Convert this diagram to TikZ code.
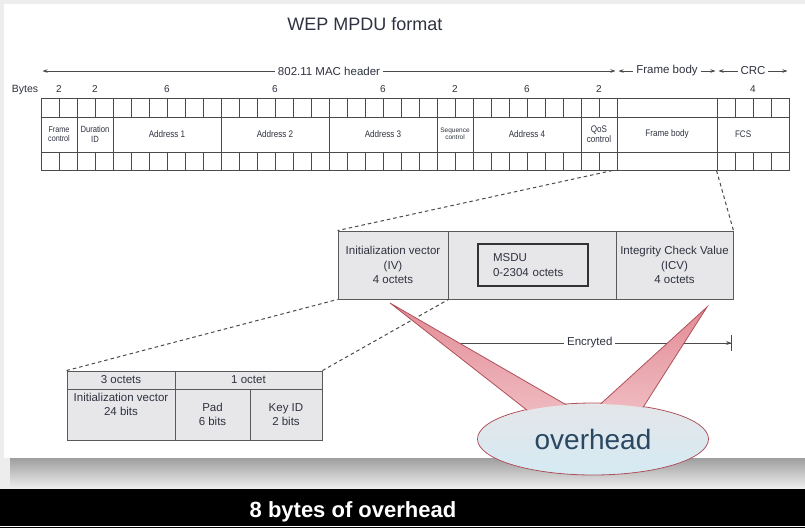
\documentclass[tikz,border=0pt]{standalone}
\usepackage{fontspec}
\setmainfont{Liberation Sans}
\newfontfamily\narrowsf[FakeStretch=0.85]{Liberation Sans}
\usetikzlibrary{arrows.meta,shapes.geometric}

\definecolor{ink}{HTML}{2F3240}
\definecolor{frameline}{HTML}{4A4A4A}
\definecolor{boxfill}{HTML}{E7E7E9}
\definecolor{calloutrim}{HTML}{B0505A}
\definecolor{wedgetop}{HTML}{E38C96}
\definecolor{wedgebot}{HTML}{F0BFC4}
\definecolor{bubbletop}{HTML}{E4E6E9}
\definecolor{bubblebot}{HTML}{D5EAF3}
\definecolor{bubbletext}{HTML}{2B4862}

\begin{document}
\begin{tikzpicture}[
    x=1pt, y=-1pt,
    field/.style={draw=frameline, line width=1pt, rectangle, minimum height=72pt, inner sep=0pt, align=center, text=ink, font=\narrowsf\fontsize{9.5}{10.5}\selectfont},
    cell/.style={draw=frameline, line width=0.6pt},
    bytenum/.style={anchor=base, text=ink, font=\fontsize{10}{10}\selectfont},
    dimline/.style={{Stealth[length=5pt,width=3.5pt]}-{Stealth[length=5pt,width=3.5pt]}, draw=frameline, line width=0.8pt, shorten <=1.5pt, shorten >=1.5pt},
    dimlabel/.style={fill=white, inner xsep=3pt, inner ysep=1pt, text=ink, font=\fontsize{11.5}{12}\selectfont},
    wepbox/.style={draw=gray!70!black, fill=boxfill, line width=0.9pt, rectangle, inner sep=0pt, align=center, text=ink, font=\fontsize{11.5}{14.5}\selectfont},
    zoomline/.style={draw=frameline, dash pattern=on 3.5pt off 3pt, line width=1pt},
    wedge/.style={draw=calloutrim, line width=0.8pt, top color=wedgetop, bottom color=wedgebot},
    bubble/.style={ellipse, minimum width=231pt, minimum height=72pt, inner sep=0pt, top color=bubbletop, bottom color=bubblebot}
]
    \useasboundingbox (0,0) rectangle (805,528);
    \fill[black!7] (0,0) rectangle (805,528);
    \fill[white] (4,4) rectangle (805,458);
    \shade[top color=black!38, bottom color=black!8] (10,458) rectangle (805,487);
    \fill[black] (0,489) rectangle (805,528);
    \draw[white, line width=1pt] (0,526) -- (805,526);

    \node[anchor=base, text=ink, font=\fontsize{18}{20}\selectfont] (title) at (365,30) {WEP MPDU format};

    \foreach \i in {0,...,31} {
        \draw[cell] (41+18*\i,98) rectangle ++(18,19);
        \draw[cell] (41+18*\i,152) rectangle ++(18,18);
    }
    \foreach \i in {0,...,3} {
        \draw[cell] (717+18*\i,98) rectangle ++(18,19);
        \draw[cell] (717+18*\i,152) rectangle ++(18,18);
    }
    \draw[cell] (41,117) -- (789,117);
    \draw[cell] (41,152) -- (789,152);

    \node[field, minimum width=36pt, font=\narrowsf\fontsize{8.5}{9.5}\selectfont] (fc) at (59,134) {Frame\\control};
    \node[field, minimum width=36pt, font=\narrowsf\fontsize{9}{10}\selectfont] (dur) at (95,134) {Duration\\ID};
    \node[field, minimum width=108pt] (addr1) at (167,134) {Address 1};
    \node[field, minimum width=108pt] (addr2) at (275,134) {Address 2};
    \node[field, minimum width=108pt] (addr3) at (383,134) {Address 3};
    \node[field, minimum width=36pt, font=\fontsize{6.5}{7.5}\selectfont] (seq) at (455,134) {Sequence\\control};
    \node[field, minimum width=108pt] (addr4) at (527,134) {Address 4};
    \node[field, minimum width=36pt] (qos) at (599,134) {QoS\\control};
    \node[field, minimum width=100pt] (body) at (667,134) {Frame body};
    \node[field, minimum width=72pt, text width=36pt, align=left] (fcs) at (753,134) {FCS};

    \node[bytenum, font=\fontsize{10.5}{11}\selectfont] (bytes) at (25,92.5) {Bytes};
    \foreach \f/\b in {fc/2, dur/2, addr1/6, addr2/6, addr3/6, seq/2, addr4/6, qos/2, fcs/4}
        \node[bytenum] (n\f) at (\f.north |- bytes.base) {\b};

    \coordinate (macL) at (41,71);
    \coordinate (macR) at (617,71);
    \coordinate (bodyR) at (717,71);
    \coordinate (crcR) at (789,71);
    \draw[dimline] (macL) -- node[dimlabel] (maclab) {802.11 MAC header} (macR);
    \draw[dimline] (macR) -- node[dimlabel] (bodylab) {Frame body} (bodyR);
    \draw[dimline] (bodyR) -- node[dimlabel] (crclab) {CRC} (crcR);

    \node[wepbox, minimum width=110pt, minimum height=68pt] (ivbox) at (393,265) {Initialization vector\\(IV)\\4 octets};
    \node[wepbox, minimum width=168pt, minimum height=68pt] (msdubox) at (532,265) {};
    \node[wepbox, minimum width=117pt, minimum height=68pt] (icvbox) at (674.5,265) {Integrity Check Value\\(ICV)\\4 octets};
    \node[wepbox, draw=black!80, line width=1.2pt, minimum height=42pt, text width=80pt, inner xsep=15pt, align=left] (msdu) at (533,265) {MSDU\\0-2304 octets};

    \coordinate (encL) at (msdubox.south west |- 0,343);
    \coordinate (encR) at (732,343);
    \draw[draw=frameline, line width=0.8pt, {Bar[width=9pt]}-{Stealth[length=5pt,width=4pt]Bar[width=16pt]}] (encL) -- node[dimlabel] (enclab) {Encryted} (encR);

    \node[wepbox, minimum width=108pt, minimum height=18pt] (oct3) at (121,380) {3 octets};
    \node[wepbox, minimum width=147pt, minimum height=18pt] (oct1) at (248.5,380) {1 octet};
    \node[wepbox, minimum width=108pt, minimum height=51pt, text depth=20pt] (ivbits) at (121,414.5) {Initialization vector\\24 bits};
    \node[wepbox, minimum width=75pt, minimum height=51pt] (pad) at (212.5,414.5) {Pad\\6 bits};
    \node[wepbox, minimum width=72pt, minimum height=51pt] (keyid) at (286,414.5) {Key ID\\2 bits};

    \draw[zoomline] ([xshift=-5pt]qos.south east) -- (ivbox.north west);
    \draw[zoomline] (fcs.south west) -- (icvbox.north east);
    \draw[zoomline] (oct3.north west) -- (ivbox.south west);
    \draw[zoomline] (oct1.north east) -- (ivbox.south east);

    \node[bubble, draw=calloutrim, line width=0.8pt] (overhead) at (593,439) {};
    \coordinate (tipL) at (390,303);
    \coordinate (tipR) at (707,307);
    \draw[wedge] (tipL) -- (546,425) -- (589,418) -- cycle;
    \draw[wedge] (tipR) -- (583,420) -- (635,420) -- cycle;
    \node[bubble, minimum width=229pt, minimum height=70pt, text=bubbletext, font=\fontsize{28}{30}\selectfont] (overheadtext) at (overhead) {overhead};

    \node[anchor=base, text=white, font=\bfseries\fontsize{22}{24}\selectfont] (caption) at (353,517) {8 bytes of overhead};
\end{tikzpicture}
\end{document}
